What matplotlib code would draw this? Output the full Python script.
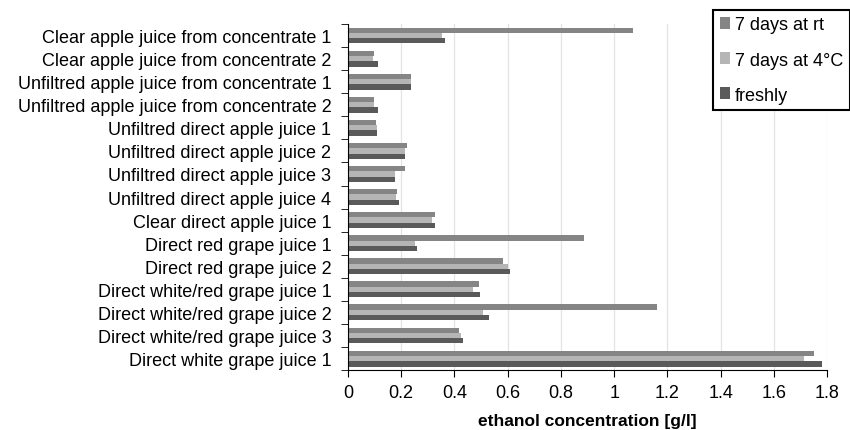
"""
Ethanol concentration in fruit juices, horizontal grouped bars
"""
import numpy as np
import matplotlib
matplotlib.use('Agg')
import matplotlib.pyplot as plt

plt.rcParams['font.family'] = ['Liberation Sans', 'DejaVu Sans']

# juice samples, top to bottom
samples = [
    'Clear apple juice from concentrate 1',
    'Clear apple juice from concentrate 2',
    'Unfiltred apple juice from concentrate 1',
    'Unfiltred apple juice from concentrate 2',
    'Unfiltred direct apple juice 1',
    'Unfiltred direct apple juice 2',
    'Unfiltred direct apple juice 3',
    'Unfiltred direct apple juice 4',
    'Clear direct apple juice 1',
    'Direct red grape juice 1',
    'Direct red grape juice 2',
    'Direct white/red grape juice 1',
    'Direct white/red grape juice 2',
    'Direct white/red grape juice 3',
    'Direct white grape juice 1',
]

# ethanol [g/l]
days7_rt = [1.07, 0.099, 0.237, 0.098, 0.104, 0.221, 0.214, 0.185, 0.326,
            0.886, 0.584, 0.491, 1.162, 0.417, 1.751]
days7_4c = [0.352, 0.095, 0.236, 0.098, 0.109, 0.216, 0.177, 0.180, 0.316,
            0.253, 0.603, 0.469, 0.506, 0.424, 1.715]
freshly = [0.363, 0.113, 0.236, 0.112, 0.110, 0.213, 0.178, 0.193, 0.328,
           0.258, 0.609, 0.495, 0.531, 0.431, 1.782]

series = [('7 days at rt', days7_rt, '#858585'),
          ('7 days at 4°C', days7_4c, '#b5b5b5'),
          ('freshly', freshly, '#5a5a5a')]

fig = plt.figure(figsize=(8.5, 4.31), dpi=100)
ax = fig.add_axes([0.4094, 0.139, 0.5636, 0.803])

n = len(samples)
pos = np.arange(n)
h = 0.23
for i, (name, vals, col) in enumerate(series):
    ax.barh(pos + (i - 1) * h, vals, height=h, color=col, label=name, zorder=2)

ax.set_ylim(n - 0.5, -0.5)
ax.set_xlim(0, 1.8)
ax.set_xticks(np.arange(0, 1.81, 0.2))
ax.set_xticklabels(['0', '0.2', '0.4', '0.6', '0.8', '1', '1.2', '1.4', '1.6', '1.8'],
                   fontsize=13)
ax.set_yticks(pos)
ax.set_yticklabels(samples, fontsize=13)
ax.tick_params(axis='y', length=0, pad=12)
# boundary ticks between categories
ax.set_yticks(np.arange(-0.5, n, 1), minor=True)
ax.tick_params(axis='y', which='minor', length=5, direction='out')
ax.tick_params(axis='x', length=5, direction='out', pad=5)

ax.grid(axis='x', color='#e3e3e3', linewidth=0.9, zorder=0)
ax.spines['top'].set_visible(False)
ax.spines['right'].set_visible(False)

ax.set_xlabel('ethanol concentration [g/l]', fontsize=12.5, fontweight='bold', labelpad=9)

leg = ax.legend(loc='upper right', bbox_to_anchor=(1.047, 1.04), fontsize=13,
                frameon=True, fancybox=False, edgecolor='black', framealpha=1,
                handlelength=0.6, handleheight=0.6, handletextpad=0.25,
                labelspacing=1.0, borderpad=0.35, borderaxespad=0)
leg.get_frame().set_linewidth(1.5)

plt.savefig('out.png', dpi=100)
plt.close()
